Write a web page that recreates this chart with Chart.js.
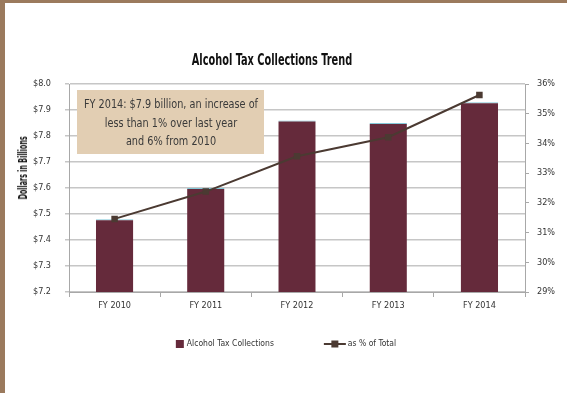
<!DOCTYPE html>
<html>
<head>
<meta charset="utf-8">
<title>Alcohol Tax Collections Trend</title>
<script src="https://cdn.jsdelivr.net/npm/chart.js@4.4.1/dist/chart.umd.min.js"></script>
<style>
  html, body { margin: 0; padding: 0; }
  body { background: #9b7a5d; width: 567px; height: 393px; overflow: hidden; }
  #panel { position: absolute; left: 5px; top: 3px; width: 562px; height: 390px; background: #fff; }
  #panel canvas { position: absolute; left: 0; top: 0; }
  .narrow { font-family: 'Liberation Sans Narrow', 'DejaVu Sans Condensed', sans-serif; white-space: nowrap; }
  #title { position: absolute; left: 0; top: 47px; width: 534px; text-align: center;
           font-size: 16px; font-weight: bold; line-height: 20px; color: #111;
           transform: scaleX(0.68); transform-origin: center; }
  #ytitle { position: absolute; left: -42px; top: 158px; width: 120px; height: 14px; line-height: 14px;
            text-align: center; font-size: 11.5px; font-weight: bold; color: #111;
            transform: rotate(-90deg) scaleX(0.62); }
  #note { position: absolute; left: 72px; top: 87px; width: 187px; height: 64px; background: #e2ceb3;
          box-sizing: border-box; padding-top: 5px; font-size: 13px;
          line-height: 18.5px; color: #3a3a3a; }
  #note div { width: 250px; margin-left: -31.5px; text-align: center;
              transform: scaleX(0.83); transform-origin: center; }
</style>
</head>
<body>
<div id="panel">
  <canvas id="mycanvas" width="562" height="390"></canvas>
  <div id="title" class="narrow">Alcohol Tax Collections Trend</div>
  <div id="ytitle" class="narrow">Dollars in Billions</div>
  <div id="note" class="narrow">
    <div>FY 2014: $7.9 billion, an increase of</div>
    <div>less than 1% over last year</div>
    <div>and 6% from 2010</div>
  </div>
</div>
<script>
var FONT = "'Liberation Sans Narrow', 'DejaVu Sans Condensed', sans-serif";

// fiscal years and the two series
var years = ['FY 2010', 'FY 2011', 'FY 2012', 'FY 2013', 'FY 2014'];
var collections = [7.48, 7.60, 7.86, 7.85, 7.93];      // billions of dollars
var shareOfTotal = [31.46, 32.38, 33.57, 34.21, 35.63]; // percent of total

// axis ranges
var dollarRange = [7.2, 8.0];
var percentRange = [29, 36];

// legend drawn by hand so the line item can show its square marker
var customLegend = {
  id: 'customLegend',
  afterDraw: function(chart) {
    var ctx = chart.ctx;
    var sets = chart.data.datasets;
    var y = 341;
    ctx.save();
    ctx.font = '8.5px ' + FONT;
    ctx.textBaseline = 'middle';
    var w1 = ctx.measureText(sets[0].label).width;
    var w2 = ctx.measureText(sets[1].label).width;
    var total = 8 + 3 + w1 + 50 + 22 + 2 + w2;
    var x = chart.width / 2 - total / 2;

    ctx.fillStyle = sets[0].backgroundColor;
    ctx.fillRect(x, y - 4, 8, 8);
    ctx.fillStyle = '#333';
    ctx.fillText(sets[0].label, x + 11, y);

    x += 11 + w1 + 50;
    ctx.strokeStyle = sets[1].borderColor;
    ctx.lineWidth = 2;
    ctx.beginPath();
    ctx.moveTo(x, y);
    ctx.lineTo(x + 22, y);
    ctx.stroke();
    ctx.fillStyle = sets[1].pointBackgroundColor;
    ctx.fillRect(x + 7.5, y - 3.5, 7, 7);
    ctx.fillStyle = '#333';
    ctx.fillText(sets[1].label, x + 24, y);
    ctx.restore();
  }
};

var ctx = document.getElementById('mycanvas');

var chart = new Chart(ctx, {
  type: 'bar',
  data: {
    labels: years,
    datasets: [
      {
        label: 'Alcohol Tax Collections',
        data: collections,
        backgroundColor: '#652a3b',
        borderColor: 'rgba(120,196,214,0.9)',
        borderWidth: { top: 1, bottom: 1, left: 0, right: 0 },
        borderSkipped: false,
        barPercentage: 0.41,
        categoryPercentage: 1,
        yAxisID: 'y',
        order: 1
      },
      {
        type: 'line',
        label: 'as % of Total',
        data: shareOfTotal,
        borderColor: '#4b3a32',
        borderWidth: 2,
        pointStyle: 'rect',
        pointRadius: 4.6,
        pointBackgroundColor: '#4b3a32',
        pointBorderColor: '#4b3a32',
        pointBorderWidth: 0,
        tension: 0,
        yAxisID: 'y2',
        order: 0
      }
    ]
  },
  options: {
    responsive: false,
    animation: false,
    devicePixelRatio: 1,
    layout: { padding: { top: 81, bottom: 71, left: 0, right: 0 } },
    plugins: {
      legend: { display: false },
      title: { display: false },
      tooltip: { enabled: false }
    },
    scales: {
      x: {
        offset: true,
        afterFit: function(scale) { scale.height = 30; },
        grid: { offset: true, drawOnChartArea: false, drawTicks: true, tickLength: 5, color: '#a8a8a8' },
        border: { display: true, color: '#a8a8a8' },
        ticks: { padding: 3, color: '#333', font: { family: FONT, size: 9 } }
      },
      y: {
        position: 'left',
        min: dollarRange[0],
        max: dollarRange[1],
        afterFit: function(scale) { scale.width = 64; },
        grid: { color: '#c6c6c6', lineWidth: 1.5, tickLength: 4 },
        border: { display: true, color: '#a8a8a8' },
        ticks: {
          stepSize: 0.1,
          padding: 14,
          color: '#333',
          font: { family: FONT, size: 9 },
          callback: function(v) { return '$' + Number(v).toFixed(1); }
        }
      },
      y2: {
        position: 'right',
        min: percentRange[0],
        max: percentRange[1],
        afterFit: function(scale) { scale.width = 42; },
        grid: { drawOnChartArea: false, tickLength: 4, color: '#a8a8a8' },
        border: { display: true, color: '#a8a8a8' },
        ticks: {
          stepSize: 1,
          padding: 8,
          color: '#333',
          font: { family: FONT, size: 9 },
          callback: function(v) { return v + '%'; }
        }
      }
    }
  },
  plugins: [customLegend]
});
</script>
</body>
</html>
